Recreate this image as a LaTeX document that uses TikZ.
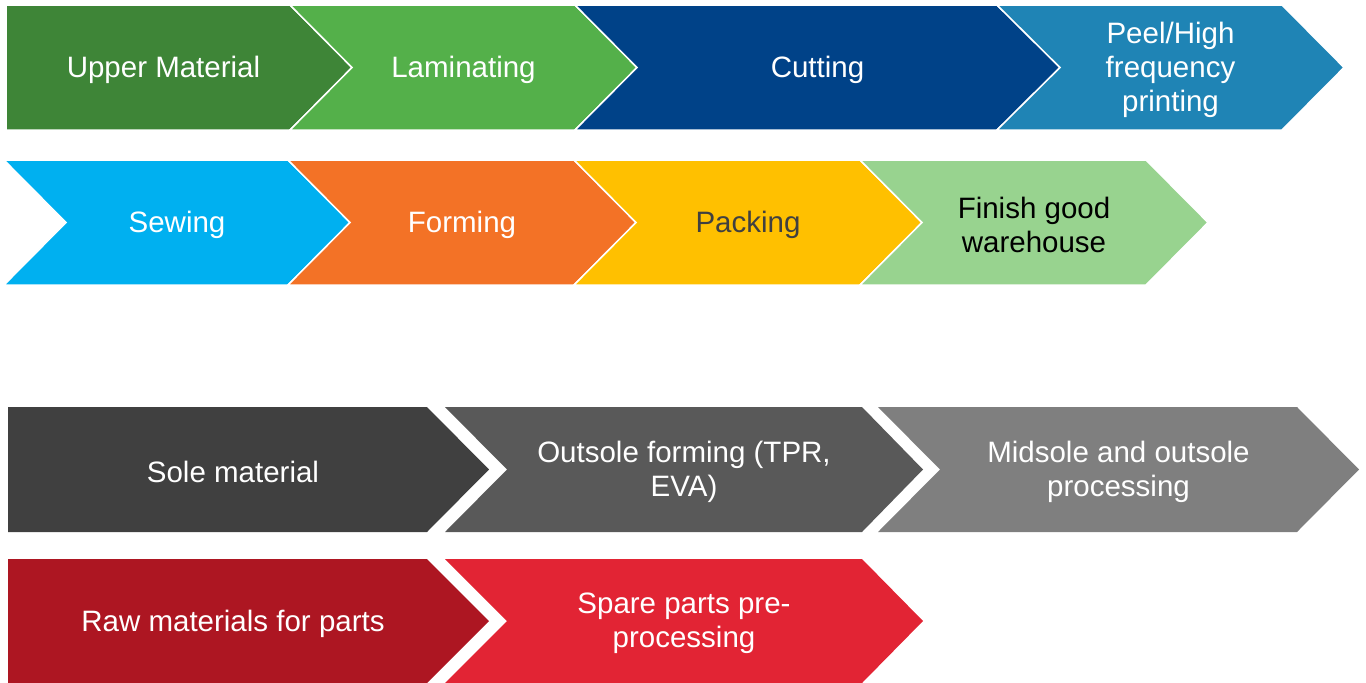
\documentclass[tikz,border=0pt]{standalone}
\usepackage{fontspec}
\setmainfont{Liberation Sans}
\definecolor{cUpper}{HTML}{3E8537}
\definecolor{cLamin}{HTML}{54B04A}
\definecolor{cCut}{HTML}{004288}
\definecolor{cPeel}{HTML}{1F84B5}
\definecolor{cSew}{HTML}{00B0F0}
\definecolor{cForm}{HTML}{F37226}
\definecolor{cPack}{HTML}{FFC000}
\definecolor{cFinish}{HTML}{98D38F}
\definecolor{cSole}{HTML}{404040}
\definecolor{cOut}{HTML}{595959}
\definecolor{cMid}{HTML}{7F7F7F}
\definecolor{cRaw}{HTML}{AD1622}
\definecolor{cSpare}{HTML}{E22434}
\definecolor{cDarkTxt}{HTML}{404040}
\tikzset{
  thinedge/.style={draw=white, line width=1.5pt, line join=miter},
  lbl/.style={align=center, text=white, inner sep=0pt, yshift=-2.5pt,
              font=\fontsize{29.5}{34}\selectfont},
}
\begin{document}
\begin{tikzpicture}[x=1pt, y=-1pt]
\useasboundingbox (0,0) rectangle (1366,683);

% upper line, first row
\filldraw[thinedge, fill=cUpper]  (6,5) -- (290,5) -- (352,67.5) -- (290,130) -- (6,130) -- cycle;
\filldraw[thinedge, fill=cLamin]  (290,5) -- (575,5) -- (637,67.5) -- (575,130) -- (290,130) -- (352,67.5) -- cycle;
\filldraw[thinedge, fill=cCut]    (575,5) -- (997,5) -- (1060,67.5) -- (997,130) -- (575,130) -- (637,67.5) -- cycle;
\filldraw[thinedge, fill=cPeel]   (997,5) -- (1282,5) -- (1344,67.5) -- (1282,130) -- (997,130) -- (1060,67.5) -- cycle;
\node[lbl] (upper) at (163.5,67.5) {Upper Material};
\node[lbl] (lamin) at (463.5,67.5) {Laminating};
\node[lbl] (cut)   at (817.5,67.5) {Cutting};
\node[lbl] (peel)  at (1170.5,67.5) {Peel/High\\frequency\\printing};

% upper line, second row
\filldraw[thinedge, fill=cSew]    (4,160) -- (288,160) -- (350,222.5) -- (288,285) -- (4,285) -- (66,222.5) -- cycle;
\filldraw[thinedge, fill=cForm]   (288,160) -- (574,160) -- (636,222.5) -- (574,285) -- (288,285) -- (350,222.5) -- cycle;
\filldraw[thinedge, fill=cPack]   (574,160) -- (860,160) -- (922,222.5) -- (860,285) -- (574,285) -- (636,222.5) -- cycle;
\filldraw[thinedge, fill=cFinish] (860,160) -- (1146,160) -- (1208,222.5) -- (1146,285) -- (860,285) -- (922,222.5) -- cycle;
\node[lbl] (sew)    at (177,222.5) {Sewing};
\node[lbl] (form)   at (462,222.5) {Forming};
\node[lbl, text=cDarkTxt] (pack) at (748,222.5) {Packing};
\node[lbl, text=black] (finish) at (1034,222.5) {Finish good\\warehouse};

% sole line
\fill[cSole] (8,407) -- (427,407) -- (489,469.5) -- (427,532) -- (8,532) -- cycle;
\fill[cOut]  (445,407) -- (862,407) -- (923,469.5) -- (862,532) -- (445,532) -- (507,469.5) -- cycle;
\fill[cMid]  (878,407) -- (1297,407) -- (1359,469.5) -- (1297,532) -- (878,532) -- (940,469.5) -- cycle;
\node[lbl] (sole) at (233,469.5) {Sole material};
\node[lbl] (outsole) at (684,469.5) {Outsole forming (TPR,\\EVA)};
\node[lbl] (midsole) at (1118.5,469.5) {Midsole and outsole\\processing};

% parts line
\fill[cRaw]   (8,559) -- (427,559) -- (489,621) -- (427,683) -- (8,683) -- cycle;
\fill[cSpare] (445,559) -- (862,559) -- (923,621) -- (862,683) -- (445,683) -- (507,621) -- cycle;
\node[lbl] (raw) at (233,621) {Raw materials for parts};
\node[lbl] (spare) at (684,621) {Spare parts pre-\\processing};
\end{tikzpicture}
\end{document}
